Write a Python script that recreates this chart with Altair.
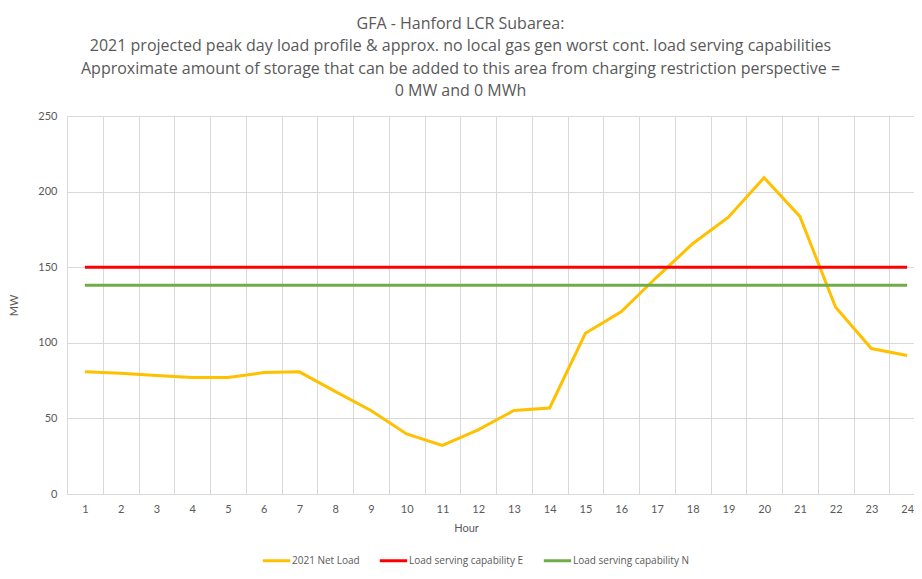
import altair as alt
import pandas as pd

hours = list(range(1, 25))
net_load = [80.8, 79.9, 78.3, 77.0, 77.0, 80.3, 80.8, 67.9, 55.2, 39.7, 32.2, 42.4,
            55.2, 56.9, 106.3, 120.5, 143.5, 165.5, 183.1, 209.2, 183.6, 123.5, 96.2, 91.6]
cap_e = [150] * 24
cap_n = [138] * 24
series_names = ["2021 Net Load", "Load serving capability E", "Load serving capability N"]
series_colors = ["#FFC000", "#FF0000", "#70AD47"]

rows = []
for name, vals in zip(series_names, [net_load, cap_e, cap_n]):
    for h, v in zip(hours, vals):
        rows.append({"Hour": h, "MW": v, "Series": name})
df = pd.DataFrame(rows)

title_lines = [
    "GFA - Hanford LCR Subarea:",
    "2021 projected peak day load profile & approx. no local gas gen worst cont. load serving capabilities",
    "Approximate amount of storage that can be added to this area from charging restriction perspective =",
    "0 MW and 0 MWh",
]

FONT = "Lato"
TFONT = "Open Sans"
GRAY = "#595959"

chart = alt.Chart(df).mark_line(strokeWidth=3).encode(
    x=alt.X("Hour:O", title="Hour",
            scale=alt.Scale(paddingInner=0, paddingOuter=0, round=False, range=[0, 858]),
            axis=alt.Axis(labelAngle=0, tickBand="extent", grid=True, ticks=False,
                          domainColor="#D9D9D9", gridColor="#D9D9D9",
                          labelColor=GRAY, labelFontSize=11, labelPadding=9,
                          titleColor=GRAY, titleFontSize=11, titleFontWeight="normal",
                          titlePadding=8, labelFont=FONT, titleFont=FONT,
                          titleX=429 - 30)),
    y=alt.Y("MW:Q", title="MW",
            scale=alt.Scale(domain=[0, 250]),
            axis=alt.Axis(values=[0, 50, 100, 150, 200, 250], domain=False, ticks=False,
                          gridColor="#D9D9D9", labelColor=GRAY, labelFontSize=11,
                          labelPadding=10, titleColor=GRAY, titleFontSize=11,
                          titleFontWeight="normal", titlePadding=18,
                          labelFont=FONT, titleFont=FONT)),
    color=alt.Color("Series:N",
                    scale=alt.Scale(domain=series_names, range=series_colors),
                    legend=alt.Legend(orient="none", direction="horizontal",
                                      legendX=194, legendY=429, title=None,
                                      symbolType="stroke", symbolSize=750,
                                      symbolStrokeWidth=3, labelColor=GRAY,
                                      labelFontSize=10, labelFont=TFONT,
                                      columnPadding=13, labelOffset=0)),
).properties(
    width=847,
    height=378,
    autosize=alt.AutoSizeParams(type="none"),
    padding={"left": 59, "top": 108, "right": 0, "bottom": 74},
    title=alt.Title(title_lines, fontSize=16, font=TFONT, color=GRAY,
                    fontWeight="normal", lineHeight=22.5, offset=11,
                    anchor="middle", frame="group", dx=-30),
).configure_view(stroke=None)

chart.save("out.html", embed_options={"renderer": "svg", "actions": False})
